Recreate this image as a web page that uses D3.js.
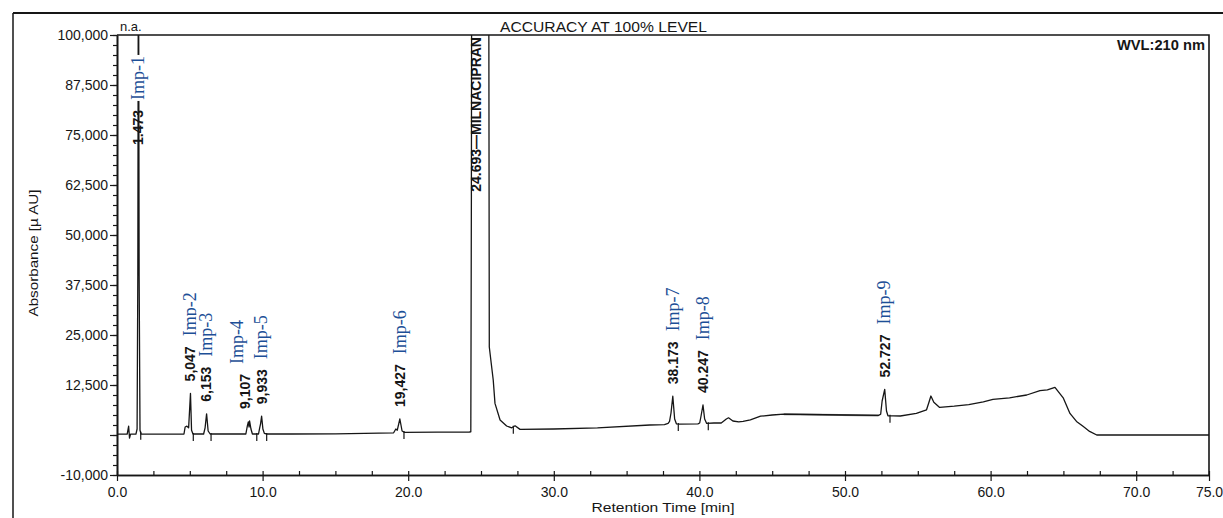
<!DOCTYPE html>
<html>
<head>
<meta charset="utf-8">
<script src="https://cdn.jsdelivr.net/npm/d3@7"></script>
<style>
body { margin: 0; background: #fff; }
svg { display: block; }
</style>
</head>
<body>
<div id="viz"></div>
<script>

const width = 1223
const height = 518

// chromatogram trace: [retention time (min), absorbance (µAU)]
const trace = [
    [0, 200], [0.7, 200], [0.8, 2200], [0.86, -800], [0.93, 200],
    [1.30, 200], [1.38, 1500], [1.43, 40000], [1.473, 140000], [1.52, 40000], [1.58, 1200], [1.66, 200],
    [4.60, 250], [4.68, 2000], [4.80, 2200], [4.92, 1800], [5.047, 10400], [5.12, 1200], [5.22, 250],
    [5.95, 250], [6.05, 1800], [6.153, 5300], [6.26, 1000], [6.40, 250],
    [8.85, 250], [8.95, 2200], [9.02, 3300], [9.07, 2000], [9.107, 3500], [9.20, 1500], [9.30, 250],
    [9.72, 250], [9.80, 1800], [9.86, 2800], [9.933, 4700], [10.02, 1500], [10.12, 400], [10.30, 250],
    [12.0, 250], [15.0, 300], [18.0, 450],
    [19.0, 550], [19.15, 1500], [19.25, 1200], [19.427, 4000], [19.58, 1000], [19.75, 650],
    [22.0, 700], [24.20, 750], [24.30, 800], [24.34, 60000], [24.37, 150000], [25.52, 150000], [25.57, 22000],
    [25.70, 18000], [25.84, 13750], [25.96, 7900], [26.31, 3750], [26.76, 2250], [27.11, 1800], [27.34, 2300], [27.68, 1400],
    [30.0, 1500], [33.0, 1800], [36.6, 2500],
    [37.6, 2600], [37.85, 2900], [37.95, 3400], [38.05, 5500], [38.173, 9700], [38.30, 4000], [38.42, 2800], [38.6, 2700],
    [39.9, 2800], [40.02, 3000], [40.10, 4500], [40.247, 7500], [40.36, 4000], [40.5, 2900], [41.0, 3000],
    [41.5, 3000], [41.85, 4000], [42.0, 4300], [42.3, 3500], [42.7, 3300], [43.0, 3400],
    [43.5, 3800], [44.2, 4700], [45.0, 5000], [45.8, 5200], [50.0, 5000], [52.3, 4900],
    [52.45, 5200], [52.55, 8500], [52.727, 11400], [52.85, 6000], [52.95, 4800], [53.3, 4800], [53.8, 4750],
    [54.9, 5400], [55.6, 6300], [55.75, 8000], [55.9, 9750], [56.1, 8200], [56.5, 6900],
    [57.5, 7200], [58.5, 7600], [59.5, 8300], [60.16, 8900], [61.3, 9300], [62.48, 10000], [63.39, 11100], [63.9, 11300], [64.42, 11900],
    [65.0, 9200], [65.45, 5400], [65.9, 3400], [66.37, 2100], [66.8, 900], [67.29, 0], [75, 0]
]

// integration baseline drawn grey by the software
const integrationBaseline = [[45.8, 5200], [52.3, 4900]]

// peaks
const peakTimes = [1.473, 5.047, 6.153, 9.107, 9.933, 19.427, 24.693, 38.173, 40.247, 52.727]
const peakHeights = [140000, 10400, 5300, 3500, 4700, 4000, 150000, 9700, 7500, 11400]
const peakTimeLabels = ["1.473", "5,047", "6,153", "9,107", "9,933", "19,427", "24.693\u2014MILNACIPRAN", "38.173", "40.247", "52.727"]
const peakNames = ["Imp-1", "Imp-2", "Imp-3", "Imp-4", "Imp-5", "Imp-6", "", "Imp-7", "Imp-8", "Imp-9"]
const peakEndTimes = [1.63, 5.24, 6.46, 9.60, 10.28, 19.71, 27.22, 38.55, 40.61, 53.09]

// axes
const xMajorTicks = [0, 10, 20, 30, 40, 50, 60, 70, 75]
const yMajorTicks = [-10000, 0, 12500, 25000, 37500, 50000, 62500, 75000, 87500, 100000]

const titleText = "ACCURACY AT 100% LEVEL"
const wavelengthText = "WVL:210 nm"
const xTitle = "Retention Time [min]"
const yTitle = "Absorbance [\u00b5 AU]"

const sans = "'Liberation Sans', Arial, sans-serif"
const serif = "'Liberation Serif', 'Times New Roman', serif"
const ink = "#161616"
const impBlue = "#1d4f97"

const plot = {left: 117, right: 1209, top: 35, bottom: 475}

const xScale = d3.scaleLinear().domain([0, 75]).range([plot.left, plot.right])
const yScale = d3.scaleLinear().domain([-10000, 100000]).range([plot.bottom, plot.top])
const yMax = yScale.domain()[1]

const fmt = d3.formatLocale({decimal: ".", thousands: ",", grouping: [3], currency: ["", ""], minus: "-"}).format(",")

const svg = d3.select("#viz").append("svg").attr("width", width).attr("height", height)
svg.append("rect").attr("width", width).attr("height", height).attr("fill", "#fff")

// scanned page frame
svg.append("line").attr("x1", 13).attr("y1", 13).attr("x2", width).attr("y2", 13).attr("stroke", ink).attr("stroke-width", 2)
svg.append("line").attr("x1", 13).attr("y1", 13).attr("x2", 13).attr("y2", height).attr("stroke", ink).attr("stroke-width", 1.5)

svg.append("text").attr("x", 500).attr("y", 32).text(titleText)
    .attr("font-family", sans).attr("font-size", 15).attr("fill", ink)
    .attr("textLength", 207).attr("lengthAdjust", "spacingAndGlyphs")

// plot frame (top + right)
svg.append("path").attr("d", `M${plot.left},${plot.top}H${plot.right}V${plot.bottom}`)
    .attr("fill", "none").attr("stroke", ink).attr("stroke-width", 1.6)

svg.append("text").attr("x", 120).attr("y", 31).text("n.a.")
    .attr("font-family", sans).attr("font-size", 13).attr("fill", ink)
svg.append("text").attr("x", 1205).attr("y", 50).attr("text-anchor", "end").text(wavelengthText)
    .attr("font-family", sans).attr("font-size", 14).attr("font-weight", "bold").attr("fill", ink)
    .attr("textLength", 88).attr("lengthAdjust", "spacingAndGlyphs")

// axes
const yMinorAxis = d3.axisLeft(yScale).tickValues(d3.range(-10000, 100001, 2500)).tickFormat("").tickSize(4).tickSizeOuter(0)
const yAxis = d3.axisLeft(yScale).tickValues(yMajorTicks).tickFormat(d => d === 0 ? "" : fmt(d)).tickSize(7).tickPadding(2).tickSizeOuter(0)
const xMinorAxis = d3.axisBottom(xScale).tickValues(d3.range(0, 75.01, 2.5)).tickFormat("").tickSize(-4).tickSizeOuter(0)
const xAxis = d3.axisBottom(xScale).tickValues(xMajorTicks).tickFormat(d3.format(".1f")).tickSize(6).tickPadding(6).tickSizeOuter(0)

const yMinorGroup = svg.append("g").attr("transform", `translate(${plot.left},0)`).call(yMinorAxis)
const yAxisGroup = svg.append("g").attr("transform", `translate(${plot.left},0)`).call(yAxis)
const xMinorGroup = svg.append("g").attr("transform", `translate(0,${plot.bottom})`).call(xMinorAxis)
const xAxisGroup = svg.append("g").attr("transform", `translate(0,${plot.bottom})`).call(xAxis)

svg.selectAll(".domain").attr("stroke", ink).attr("stroke-width", 1.6)
svg.selectAll(".tick line").attr("stroke", ink).attr("stroke-width", 1.2)
yAxisGroup.selectAll("text").attr("font-family", sans).attr("font-size", 14).attr("fill", ink)
xAxisGroup.selectAll("text").attr("font-family", sans).attr("font-size", 14).attr("fill", ink)

svg.append("text").attr("x", (plot.left + plot.right) / 2).attr("y", 512).attr("text-anchor", "middle").text(xTitle)
    .attr("font-family", sans).attr("font-size", 13).attr("fill", ink)
    .attr("textLength", 143).attr("lengthAdjust", "spacingAndGlyphs")
svg.append("text").attr("transform", `translate(38, ${253}) rotate(-90)`).attr("text-anchor", "middle").text(yTitle)
    .attr("font-family", sans).attr("font-size", 13).attr("fill", ink)
    .attr("textLength", 127).attr("lengthAdjust", "spacingAndGlyphs")

// trace
svg.append("clipPath").attr("id", "plotClip").append("rect")
    .attr("x", plot.left).attr("y", plot.top).attr("width", plot.right - plot.left).attr("height", plot.bottom - plot.top)

const line = d3.line().x(d => xScale(d[0])).y(d => yScale(d[1]))
const traceGroup = svg.append("g").attr("clip-path", "url(#plotClip)")
traceGroup.append("path").datum(integrationBaseline).attr("d", line)
    .attr("fill", "none").attr("stroke", "#8a8a8a").attr("stroke-width", 2)
traceGroup.append("path").datum(trace).attr("d", line)
    .attr("fill", "none").attr("stroke", ink).attr("stroke-width", 1.3).attr("stroke-linejoin", "round")

// peak end markers, hung below the trace
const bisect = d3.bisector(d => d[0]).left
const traceAt = t => {
    const i = Math.max(1, bisect(trace, t))
    const a = trace[i - 1], b = trace[i]
    return a[1] + (b[1] - a[1]) * (t - a[0]) / (b[0] - a[0])
}
svg.append("g").selectAll("line").data(peakEndTimes).enter().append("line")
    .attr("x1", d => xScale(d)).attr("x2", d => xScale(d))
    .attr("y1", d => yScale(traceAt(d)) - 1).attr("y2", d => yScale(traceAt(d)) + 7)
    .attr("stroke", ink).attr("stroke-width", 1.2)

// peak labels
const labelGroup = svg.append("g")
peakTimes.forEach((t, i) => {
    let x = xScale(t)
    const crowded = i < peakTimes.length - 1 && xScale(peakTimes[i + 1]) - x < 16
    const numX = crowded ? x - 5 : x
    const impX = crowded ? x - 12 : x

    const num = labelGroup.append("text").text(peakTimeLabels[i])
        .attr("font-family", sans).attr("font-size", 14).attr("font-weight", "bold").attr("fill", ink)
        .attr("dy", "0.35em")
    const len = num.node().getComputedTextLength()
    let bottom
    if (peakHeights[i] > yMax && peakNames[i] === "") {
        // off-scale main peak: label hangs from the top frame
        bottom = plot.top + 2 + len
    } else if (peakHeights[i] > yMax) {
        bottom = yScale(72500)
    } else {
        bottom = yScale(peakHeights[i]) - 12
    }
    num.attr("transform", `translate(${numX},${bottom}) rotate(-90)`)

    if (peakNames[i] !== "") {
        const impBottom = bottom - len - 10
        const g = labelGroup.append("g").attr("transform", `translate(${impX},${impBottom}) rotate(-90)`)
        const bg = g.append("rect").attr("fill", "#fff")
        const imp = g.append("text").text(peakNames[i]).attr("dy", "0.32em")
            .attr("font-family", serif).attr("font-size", 18).attr("fill", impBlue)
        const bb = imp.node().getBBox()
        bg.attr("x", bb.x - 1).attr("y", bb.y).attr("width", bb.width + 2).attr("height", bb.height)
    }
})

</script>
</body>
</html>
